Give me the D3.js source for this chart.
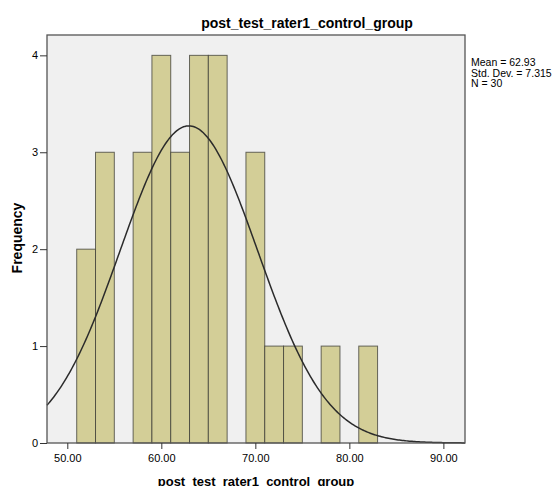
<!DOCTYPE html>
<html>
<head>
<meta charset="utf-8">
<script src="https://cdn.jsdelivr.net/npm/d3@7"></script>
<style>
  body { margin: 0; background: #fff; }
  svg text { font-family: "Liberation Sans", Arial, sans-serif; fill: #000; }
</style>
</head>
<body>
<svg id="hist" width="557" height="486"></svg>
<script>
// histogram bins (lower edge), width 2
var binStarts = [51, 53, 55, 57, 59, 61, 63, 65, 67, 69, 71, 73, 75, 77, 79, 81];
var binCounts = [2, 3, 0, 3, 4, 3, 4, 4, 0, 3, 1, 1, 0, 1, 0, 1];
var binWidth = 2;
var xTicks = [50, 60, 70, 80, 90];
var yTicks = [0, 1, 2, 3, 4];
var statLines = ["Mean = 62.93", "Std. Dev. = 7.315", "N = 30"];
var mean = 62.93, sd = 7.315, n = 30;

var svg = d3.select("#hist");
var plotL = 47, plotR = 465, plotT = 35, plotB = 443;

var x = d3.scaleLinear().domain([47.84, 92.3]).range([plotL, plotR]);
var y = d3.scaleLinear().domain([0, 4.21]).range([plotB, plotT]);

// plot area
svg.append("rect")
  .attr("x", plotL).attr("y", plotT)
  .attr("width", plotR - plotL).attr("height", plotB - plotT)
  .attr("fill", "#f0f0f0");

// bars
var bars = binStarts.map(function(s, i) { return {x0: s, x1: s + binWidth, c: binCounts[i]}; })
  .filter(function(d) { return d.c > 0; });

svg.append("g").selectAll("rect")
  .data(bars)
  .enter().append("rect")
  .attr("x", function(d) { return x(d.x0); })
  .attr("y", function(d) { return y(d.c); })
  .attr("width", function(d) { return x(d.x1) - x(d.x0); })
  .attr("height", function(d) { return y(0) - y(d.c); })
  .attr("fill", "#d3ce97")
  .attr("stroke", "#3a3a33")
  .attr("stroke-opacity", 0.75)
  .attr("stroke-width", 1);

// normal curve
var pts = d3.range(0, 301).map(function(k) {
  var v = 47.84 + (92.3 - 47.84) * k / 300;
  var f = n * binWidth * Math.exp(-0.5 * Math.pow((v - mean) / sd, 2)) / (sd * Math.sqrt(2 * Math.PI));
  return [v, f];
});
svg.append("path")
  .datum(pts)
  .attr("fill", "none")
  .attr("stroke", "#2b2b2b")
  .attr("stroke-width", 1.5)
  .attr("d", d3.line().x(function(d) { return x(d[0]); }).y(function(d) { return y(d[1]); }));

// frame
svg.append("rect")
  .attr("x", plotL).attr("y", plotT)
  .attr("width", plotR - plotL).attr("height", plotB - plotT)
  .attr("fill", "none")
  .attr("stroke", "#555")
  .attr("stroke-width", 1.3);

// axes
var xAxis = d3.axisBottom(x).tickValues(xTicks).tickSize(6).tickSizeOuter(0)
  .tickFormat(d3.format(".2f"));
var gx = svg.append("g").attr("transform", "translate(0," + plotB + ")").call(xAxis);
gx.select(".domain").remove();
gx.selectAll("line").attr("stroke", "#333");
gx.selectAll("text").attr("font-size", "11px").attr("dy", "0.9em").style("font-family", "Liberation Sans, Arial, sans-serif");

var yAxis = d3.axisLeft(y).tickValues(yTicks).tickSize(7).tickPadding(2).tickSizeOuter(0)
  .tickFormat(d3.format("d"));
var gy = svg.append("g").attr("transform", "translate(" + plotL + ",0)").call(yAxis);
gy.select(".domain").remove();
gy.selectAll("line").attr("stroke", "#333");
gy.selectAll("text").attr("font-size", "11px").style("font-family", "Liberation Sans, Arial, sans-serif");

// titles
svg.append("text")
  .attr("x", 307).attr("y", 28)
  .attr("text-anchor", "middle")
  .attr("font-size", "14px").attr("font-weight", "bold")
  .text("post_test_rater1_control_group");

svg.append("text")
  .attr("x", 256).attr("y", 486)
  .attr("text-anchor", "middle")
  .attr("font-size", "13px").attr("font-weight", "bold")
  .text("post_test_rater1_control_group");

svg.append("text")
  .attr("transform", "translate(22,238) rotate(-90)")
  .attr("text-anchor", "middle")
  .attr("font-size", "14px").attr("font-weight", "bold")
  .text("Frequency");

// stats box text
svg.append("g").selectAll("text")
  .data(statLines)
  .enter().append("text")
  .attr("x", 471)
  .attr("y", function(d, i) { return 66 + i * 10.5; })
  .attr("font-size", "10.5px")
  .text(function(d) { return d; });
</script>
</body>
</html>
